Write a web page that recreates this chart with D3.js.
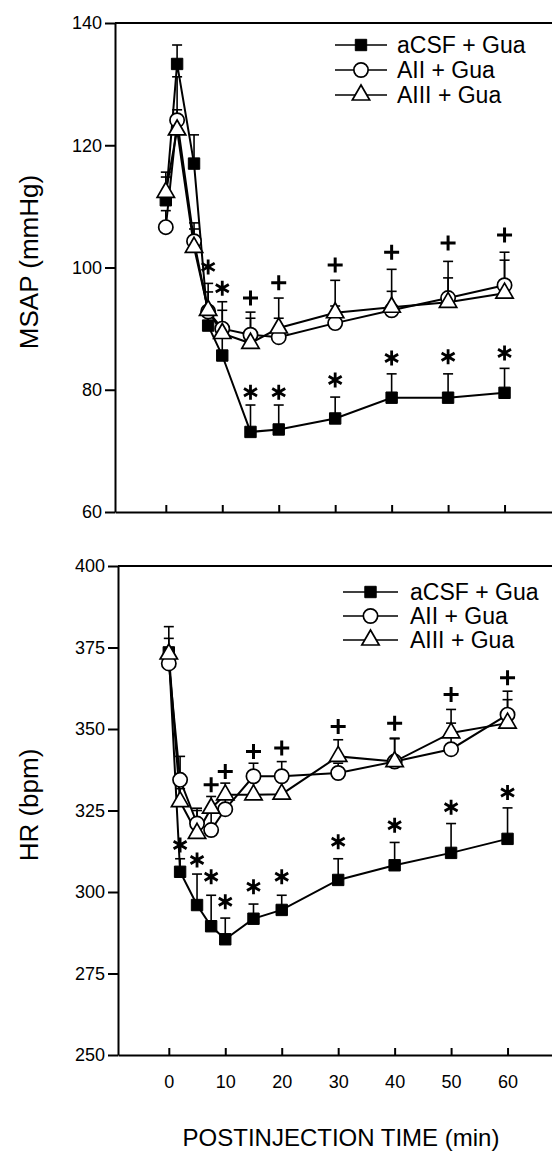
<!DOCTYPE html>
<html>
<head>
<meta charset="utf-8">
<script src="https://cdn.jsdelivr.net/npm/d3@7"></script>
<style>
body { margin: 0; background: #fff; }
svg { display: block; }
text { font-family: "Liberation Sans", Arial, sans-serif; fill: #000; }
</style>
</head>
<body>
<svg id="chart" width="552" height="1156"></svg>
<script>
// minutes after injection
var times = [0, 2, 5, 7.5, 10, 15, 20, 30, 40, 50, 60]
var xTicks = [0, 10, 20, 30, 40, 50, 60]
var seriesNames = ["aCSF + Gua", "AII + Gua", "AIII + Gua"]

// MSAP (mmHg), mean and SE
var msapACSF = [111, 133.3, 117, 90.5, 85.6, 73.1, 73.5, 75.3, 78.7, 78.7, 79.5]
var msapACSFse = [3.8, 3.1, 4.7, 3, 3, 4.4, 4, 3.5, 3.9, 3.9, 4]
var msapAII = [106.6, 124.1, 104.3, 92.8, 90, 89, 88.6, 90.9, 93, 95, 97.1]
var msapAIIse = [2.7, 7.1, 3, 3.2, 3, 3.7, 3.1, 2.8, 3.1, 3.3, 5.4]
var msapAIII = [112.3, 122.5, 103.3, 93, 89.2, 87.6, 90.1, 92.6, 93.5, 94.3, 95.8]
var msapAIIIse = [3.3, 3.3, 3, 4.4, 5.2, 4.1, 4.9, 5.3, 6.2, 6.7, 5.4]
var msapTicks = [60, 80, 100, 120, 140]
// significance marks (time, level)
var msapStars = [[7.5, 100.1], [10, 96.6], [15, 79.6], [20, 79.6], [30, 81.6], [40, 85.2], [50, 85.4], [60, 86]]
var msapPlus = [[15, 95], [20, 97.5], [30, 100.4], [40, 102.5], [50, 104], [60, 105.3]]

// HR (bpm), mean and SE
var hrACSF = [373.5, 306.2, 296, 289.5, 285.5, 291.8, 294.5, 303.7, 308.2, 312, 316.3]
var hrACSFse = [7.9, 4, 9.5, 9.5, 6.5, 4.5, 4.5, 6.5, 7, 9, 9.5]
var hrAII = [370.1, 334.4, 321, 319, 325.4, 335.5, 335.5, 336.5, 340, 343.8, 354.4]
var hrAIIse = [4, 7.2, 4, 6, 4, 4, 4.5, 3, 7.2, 8, 7.2]
var hrAIII = [373, 327.7, 318, 325.7, 329.8, 329.8, 330, 341.6, 340, 348.8, 351.8]
var hrAIIIse = [4.8, 4, 7.7, 3.6, 3.6, 5, 5, 5.1, 7, 7.2, 7.2]
var hrTicks = [250, 275, 300, 325, 350, 375, 400]
var hrStars = [[2, 314.4], [5, 309.8], [7.5, 304.7], [10, 297], [15, 301.6], [20, 304.7], [30, 315.4], [40, 320.5], [50, 326], [60, 330.5]]
var hrPlus = [[7.5, 332.9], [10, 337], [15, 343.1], [20, 344.2], [30, 350.8], [40, 351.8], [50, 360.6], [60, 365.7]]

var svg = d3.select("#chart")
var shapes = ["square", "circle", "triangle"]

function marker(sel, shape) {
	if (shape == "square") {
		sel.attr("d", d3.symbol(d3.symbolSquare, 130)).attr("fill", "#000").attr("stroke", "#000").attr("stroke-width", 1)
	} else if (shape == "circle") {
		sel.attr("d", d3.symbol(d3.symbolCircle, 160)).attr("fill", "#fff").attr("stroke", "#000").attr("stroke-width", 1.7)
	} else {
		sel.attr("d", d3.symbol(d3.symbolTriangle, 130)).attr("fill", "#fff").attr("stroke", "#000").attr("stroke-width", 1.7)
	}
}

function starPath(r) {
	var p = d3.path()
	for (var i = 0; i < 3; i++) {
		var a = Math.PI / 2 + i * Math.PI / 3
		p.moveTo(-r * Math.cos(a), -r * Math.sin(a))
		p.lineTo(r * Math.cos(a), r * Math.sin(a))
	}
	return p.toString()
}

function plusPath(r) {
	return "M" + (-r) + ",0H" + r + "M0," + (-r) + "V" + r
}

function Panel(x, y, yTicks, means, ses, stars, pluses, showXLabels, legend) {
	var g = svg.append("g")
	var x0 = x.range()[0], x1 = x.range()[1]
	var yb = y.range()[0], yt = y.range()[1]

	// frame top
	g.append("line").attr("x1", x0).attr("x2", x1).attr("y1", yt).attr("y2", yt)
		.attr("stroke", "#000").attr("stroke-width", 2)

	var ya = g.append("g").attr("transform", "translate(" + x0 + ",0)")
		.call(d3.axisLeft(y).tickValues(yTicks).tickSizeInner(10).tickSizeOuter(0).tickPadding(3))
	ya.select(".domain").attr("stroke-width", 2)
	ya.selectAll(".tick line").attr("stroke-width", 2)
	ya.selectAll("text").attr("font-size", 18).attr("font-family", "Liberation Sans, Arial, sans-serif")

	var xa = g.append("g").attr("transform", "translate(0," + yb + ")")
		.call(d3.axisBottom(x).tickValues(xTicks).tickSizeInner(-7).tickSizeOuter(0).tickPadding(20)
			.tickFormat(showXLabels ? d3.format("d") : function() { return "" }))
	xa.select(".domain").attr("stroke-width", 2)
	xa.selectAll(".tick line").attr("stroke-width", 2)
	xa.selectAll("text").attr("font-size", 18).attr("font-family", "Liberation Sans, Arial, sans-serif")

	// error bars (upward only)
	means.forEach(function(m, si) {
		var se = ses[si]
		var eb = g.append("g").attr("stroke", "#000").attr("stroke-width", 1.6)
		times.forEach(function(t, i) {
			var cx = x(t), ym = y(m[i]), ye = y(m[i] + se[i])
			eb.append("line").attr("x1", cx).attr("x2", cx).attr("y1", ym).attr("y2", ye)
			eb.append("line").attr("x1", cx - 5).attr("x2", cx + 5).attr("y1", ye).attr("y2", ye)
		})
	})

	var line = d3.line().x(function(d, i) { return x(times[i]) }).y(function(d) { return y(d) })
	means.forEach(function(m) {
		g.append("path").datum(m).attr("d", line).attr("fill", "none").attr("stroke", "#000").attr("stroke-width", 2)
	})

	means.forEach(function(m, si) {
		g.selectAll(null).data(m).enter().append("path")
			.attr("transform", function(d, i) { return "translate(" + x(times[i]) + "," + y(d) + ")" })
			.call(marker, shapes[si])
	})

	g.selectAll(null).data(stars).enter().append("path")
		.attr("transform", function(d) { return "translate(" + x(d[0]) + "," + y(d[1]) + ")" })
		.attr("d", starPath(7.5)).attr("stroke", "#000").attr("stroke-width", 2.8).attr("fill", "none")

	g.selectAll(null).data(pluses).enter().append("path")
		.attr("transform", function(d) { return "translate(" + x(d[0]) + "," + y(d[1]) + ")" })
		.attr("d", plusPath(7.5)).attr("stroke", "#000").attr("stroke-width", 3).attr("fill", "none")

	// legend
	seriesNames.forEach(function(name, si) {
		var ly = legend.y + si * legend.dy
		g.append("line").attr("x1", legend.x0).attr("x2", legend.x1).attr("y1", ly).attr("y2", ly)
			.attr("stroke", "#000").attr("stroke-width", 1.3)
		g.append("path").attr("transform", "translate(" + ((legend.x0 + legend.x1) / 2) + "," + ly + ")")
			.call(marker, shapes[si])
		g.append("text").attr("x", legend.tx).attr("y", ly).attr("dy", "0.36em")
			.attr("font-size", legend.fs).text(name)
	})
}

var xTop = d3.scaleLinear().domain([-9, 70]).range([115, 561])
var yTop = d3.scaleLinear().domain([60, 140]).range([512, 23])
var xBot = d3.scaleLinear().domain([-9, 70]).range([118, 564])
var yBot = d3.scaleLinear().domain([250, 400]).range([1055, 566])

Panel(xTop, yTop, msapTicks, [msapACSF, msapAII, msapAIII], [msapACSFse, msapAIIse, msapAIIIse],
	msapStars, msapPlus, false, {x0: 335, x1: 387, tx: 397, y: 45, dy: 25, fs: 23})
Panel(xBot, yBot, hrTicks, [hrACSF, hrAII, hrAIII], [hrACSFse, hrAIIse, hrAIIIse],
	hrStars, hrPlus, true, {x0: 343, x1: 398, tx: 410, y: 592, dy: 24, fs: 23})

svg.append("text").attr("transform", "translate(38,262) rotate(-90)").attr("text-anchor", "middle")
	.attr("font-size", 26).text("MSAP (mmHg)")
svg.append("text").attr("transform", "translate(38,805) rotate(-90)").attr("text-anchor", "middle")
	.attr("font-size", 26).text("HR (bpm)")
svg.append("text").attr("x", 341).attr("y", 1146).attr("text-anchor", "middle")
	.attr("font-size", 24).text("POSTINJECTION TIME (min)")
</script>
</body>
</html>
